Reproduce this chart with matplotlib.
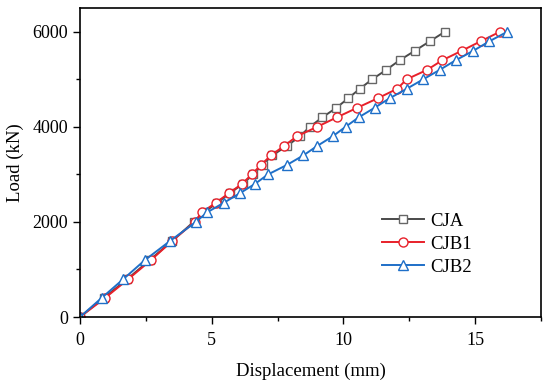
# load-displacement curves for CJA / CJB1 / CJB2

import matplotlib
matplotlib.use("Agg")
import matplotlib.pyplot as plt
from matplotlib.ticker import MultipleLocator

plt.rcParams["font.family"] = ["Liberation Serif", "DejaVu Serif"]
plt.rcParams["font.size"] = 13

# ── data ──
load_cja = [0, 400, 800, 1200, 1600, 2000, 2200, 2400, 2600, 2800, 3000, 3200,
            3400, 3600, 3800, 4000, 4200, 4400, 4600, 4800, 5000, 5200, 5400,
            5600, 5800, 6000]
disp_cja = [0, 0.90, 1.80, 2.65, 3.50, 4.31, 4.71, 5.20, 5.68, 6.18, 6.57, 6.93,
            7.30, 7.86, 8.35, 8.72, 9.20, 9.73, 10.18, 10.62, 11.09, 11.63, 12.13,
            12.71, 13.28, 13.85]

load_cjb1 = load_cja
disp_cjb1 = [0, 0.95, 1.84, 2.70, 3.50, 4.35, 4.62, 5.15, 5.64, 6.15, 6.52, 6.87,
             7.25, 7.75, 8.23, 9.00, 9.75, 10.52, 11.30, 12.04, 12.40, 13.18, 13.75,
             14.49, 15.21, 15.94]

load_cjb2 = load_cja
disp_cjb2 = [0, 0.82, 1.65, 2.47, 3.42, 4.40, 4.82, 5.45, 6.06, 6.64, 7.14, 7.86,
             8.48, 9.01, 9.59, 10.08, 10.58, 11.18, 11.75, 12.40, 13.03, 13.66, 14.26,
             14.93, 15.54, 16.22]

fig = plt.figure(figsize=(5.5, 3.88), dpi=100)
ax = fig.add_axes([80 / 550, 1 - 317 / 388, 461 / 550, 309 / 388])

ax.plot(disp_cja, load_cja, color="#4a4a4a", lw=1.4, marker="s", ms=6,
        mfc="white", mec="#666666", mew=1.0, label="CJA")
ax.plot(disp_cjb1, load_cjb1, color="#e8202a", lw=1.4, marker="o", ms=6.5,
        mfc="white", mec="#e8202a", mew=1.0, label="CJB1")
ax.plot(disp_cjb2, load_cjb2, color="#1e6fc8", lw=1.4, marker="^", ms=7,
        mfc="white", mec="#1e6fc8", mew=1.0, label="CJB2")

ax.set_xlim(0, 17.5)
ax.set_ylim(0, 6500)
ax.xaxis.set_major_locator(MultipleLocator(5))
ax.xaxis.set_minor_locator(MultipleLocator(2.5))
ax.yaxis.set_major_locator(MultipleLocator(2000))
ax.yaxis.set_minor_locator(MultipleLocator(1000))
ax.tick_params(which="both", direction="out", top=False, right=False, width=1.0)
ax.tick_params(which="major", length=5)
ax.tick_params(axis="x", which="major", pad=6)
ax.tick_params(which="minor", length=3)
for s in ax.spines.values():
    s.set_linewidth(1.2)

ax.set_xlabel("Displacement (mm)", fontsize=13.5, labelpad=10)
ax.set_ylabel("Load (kN)", fontsize=13.5, labelpad=6)

ax.legend(loc="center left", bbox_to_anchor=(0.635, 0.236), frameon=False,
          fontsize=13.5, borderpad=0, handlelength=2.25, handletextpad=0.3,
          labelspacing=0.32)

fig.savefig("out.png", dpi=100)
